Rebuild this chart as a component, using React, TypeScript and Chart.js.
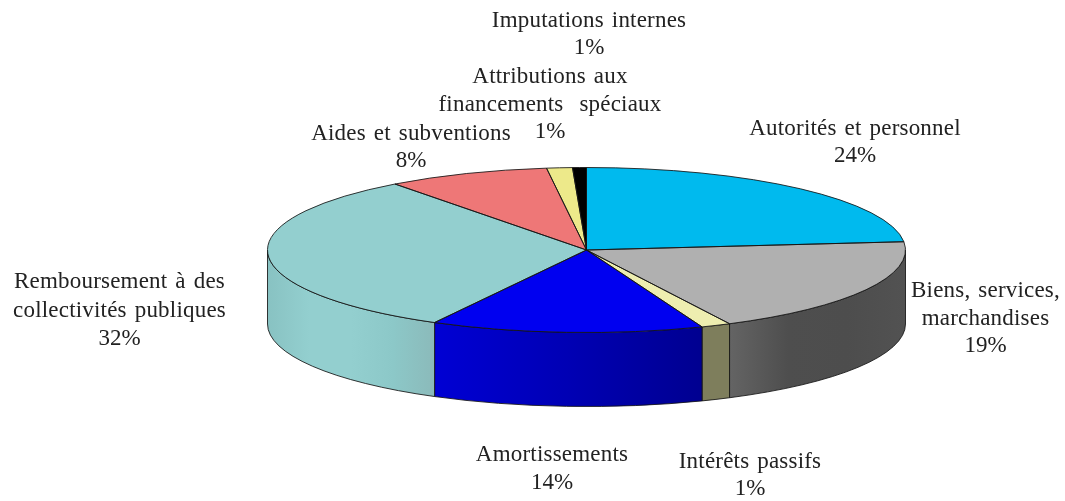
import React, { useEffect, useRef } from "react";
import { Chart, registerables } from "chart.js";

Chart.register(...registerables);

const categories = [
  "Autorités et personnel",
  "Biens, services, marchandises",
  "Intérêts passifs",
  "Amortissements",
  "Remboursement à des collectivités publiques",
  "Aides et subventions",
  "Attributions aux financements spéciaux",
  "Imputations internes",
];
const values = [23.4, 19.2, 1.5, 13.8, 31.85, 8.25, 1.3, 0.7];
const percentLabels = ["24%", "19%", "1%", "14%", "32%", "8%", "1%", "1%"];
const labelLines = [
  ["Autorités et personnel"],
  ["Biens, services,", "marchandises"],
  ["Intérêts passifs"],
  ["Amortissements"],
  ["Remboursement à des", "collectivités publiques"],
  ["Aides et subventions"],
  ["Attributions aux", "financements  spéciaux"],
  ["Imputations internes"],
];
const topColors = ["#00BAEE", "#B0B0B0", "#EEEEB0", "#0000F0", "#93CFCF", "#EE7777", "#EDE98A", "#000000"];
const wallStops: string[][] = [
  ["#006F8E", "#006F8E"],
  ["#646464", "#4E4E4E", "#4D4D4D", "#525252"],
  ["#7E7E5C", "#7E7E5C"],
  ["#0000D4", "#0000B4", "#000090"],
  ["#88C2C2", "#93CFCF", "#93CFCF", "#8CC8C8", "#8BBABA"],
  ["#8E4747", "#8E4747"],
  ["#8E8C53", "#8E8C53"],
  ["#000000", "#000000"],
];
// label centre x and first-line y, per category
const labelX = [855, 985.5, 750, 552, 119.5, 411, 550, 589];
const labelY = [129, 291, 462, 455, 282, 134, 77, 21];
const lineGaps = [27, 27.5, 27, 28, 28.5, 27, 27.5, 27];

const W = 1065;
const H = 501;
const RADIUS = 319;
const RY = 82.5;
const DEPTH = 74;
const SY = RY / RADIUS;

const pie3d = {
  id: "pie3d",
  beforeDatasetsDraw(chart: any) {
    const ctx = chart.ctx as CanvasRenderingContext2D;
    const arcs = chart.getDatasetMeta(0).data;
    arcs.forEach((arc: any, i: number) => {
      const s = Math.max(arc.startAngle, 0);
      const e = Math.min(arc.endAngle, Math.PI);
      if (e <= s) return;
      const { x: cx, y: cy } = arc;
      const x0 = cx + RADIUS * Math.cos(e);
      const x1 = cx + RADIUS * Math.cos(s);
      const g = ctx.createLinearGradient(x0, 0, x1, 0);
      const stops = wallStops[i];
      stops.forEach((c, k) => g.addColorStop(k / (stops.length - 1), c));
      ctx.save();
      ctx.beginPath();
      ctx.ellipse(cx, cy, RADIUS, RY, 0, s, e);
      ctx.ellipse(cx, cy + DEPTH, RADIUS, RY, 0, e, s, true);
      ctx.closePath();
      ctx.fillStyle = g;
      ctx.fill();
      ctx.strokeStyle = "rgba(20,20,20,0.85)";
      ctx.lineWidth = 1;
      ctx.stroke();
      ctx.restore();
    });
  },
  beforeDatasetDraw(chart: any) {
    const ctx = chart.ctx as CanvasRenderingContext2D;
    const arc = chart.getDatasetMeta(0).data[0];
    ctx.save();
    ctx.translate(arc.x, arc.y);
    ctx.scale(1, SY);
    ctx.translate(-arc.x, -arc.y);
  },
  afterDatasetDraw(chart: any) {
    chart.ctx.restore();
  },
  afterDatasetsDraw(chart: any) {
    const ctx = chart.ctx as CanvasRenderingContext2D;
    chart.getDatasetMeta(0).data.forEach((arc: any) => {
      ctx.save();
      ctx.beginPath();
      ctx.moveTo(arc.x, arc.y);
      ctx.ellipse(arc.x, arc.y, RADIUS, RY, 0, arc.startAngle, arc.endAngle);
      ctx.closePath();
      ctx.strokeStyle = "rgba(20,20,20,0.85)";
      ctx.lineWidth = 1;
      ctx.stroke();
      ctx.restore();
    });
  },
  afterDraw(chart: any) {
    const ctx = chart.ctx as CanvasRenderingContext2D;
    ctx.save();
    ctx.font = '23px "Liberation Serif", serif';
    ctx.fillStyle = "#222222";
    ctx.textAlign = "center";
    ctx.textBaseline = "middle";
    (ctx as any).wordSpacing = "2px";
    categories.forEach((_, i) => {
      const lines = [...labelLines[i], percentLabels[i]];
      lines.forEach((line, k) => {
        (ctx as any).letterSpacing = k < lines.length - 1 ? "0.2px" : "0px";
        ctx.fillText(line, labelX[i], labelY[i] + k * lineGaps[i]);
      });
    });
    ctx.restore();
  },
};

export default function App() {
  const ref = useRef<HTMLCanvasElement>(null);
  useEffect(() => {
    if (!ref.current) return;
    const chart = new Chart(ref.current, {
      type: "pie",
      data: {
        labels: categories,
        datasets: [{ data: values, backgroundColor: topColors, borderWidth: 0, radius: RADIUS } as any],
      },
      options: {
        animation: false,
        responsive: false,
        devicePixelRatio: 1,
        layout: { padding: { left: 108, right: 0, top: 0, bottom: 1 } },
        plugins: { legend: { display: false }, tooltip: { enabled: false } },
      },
      plugins: [pie3d],
    } as any);
    return () => chart.destroy();
  }, []);
  return (
    <canvas
      ref={ref}
      width={W}
      height={H}
      style={{ position: "absolute", left: 0, top: 0, width: W, height: H, background: "#fff" }}
    />
  );
}
